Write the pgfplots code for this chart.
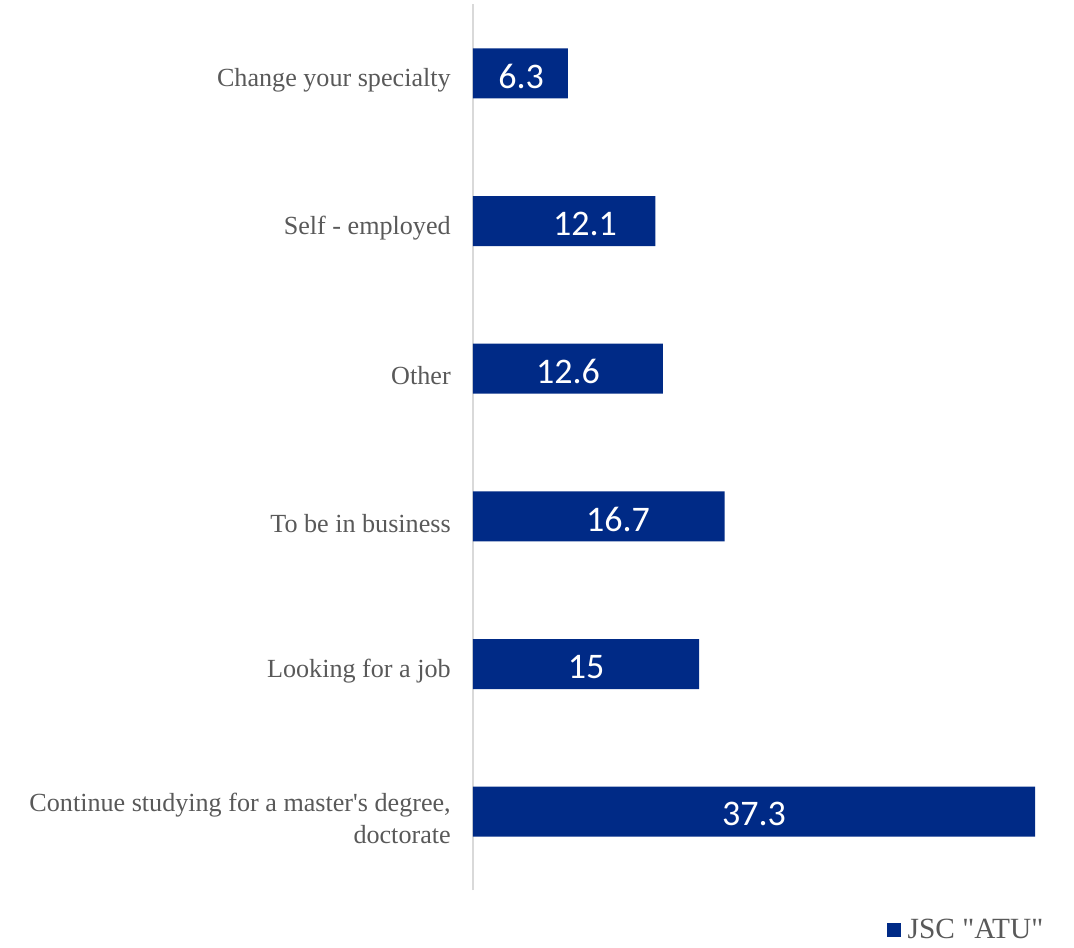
\documentclass[border=0pt]{standalone}
\usepackage{pgfplots}
\usepackage{pgfplotstable}
\pgfplotsset{compat=1.18}
\usepackage{fontspec}
\setmainfont{Liberation Serif}[Ligatures=TeXOff]
\newfontfamily\carlito{Carlito}
\definecolor{barblue}{HTML}{002A86}
\definecolor{txtgrey}{HTML}{595959}
\definecolor{axgrey}{HTML}{D9D9D9}
\pgfplotstableread{
pos val lx
5 6.3 3.19
4 12.1 7.43
3 12.6 6.30
2 16.7 9.62
1 15 7.50
0 37.3 18.65
}\datatab
\begin{document}
\begin{tikzpicture}
\useasboundingbox (-354.75pt,-42.75pt) rectangle (450.75pt,667.5pt);
\begin{axis}[
  at={(0,0)}, anchor=south west,
  scale only axis,
  width=421.5pt, height=664.5pt,
  xmin=0, xmax=37.3,
  ymin=-0.53, ymax=5.47,
  axis x line=none,
  axis y line=left,
  y axis line style={-, draw=axgrey, line width=1.5pt},
  xtick=\empty,
  ytick={0,1,2,3,4,5},
  yticklabels={{Continue studying for a master's degree,\\doctorate},{Looking for a job},{To be in business},{Other},{Self - employed},{Change your specialty}},
  major tick length=0pt,
  yticklabel style={font=\fontsize{19.6}{23.5}\selectfont, text=txtgrey, align=right, inner sep=0pt, xshift=-16.5pt, yshift=-5pt},
  clip=false,
  legend style={draw=none, fill=none, inner sep=0pt, outer sep=0pt,
    at={(axis description cs:0.7367,-0.0451)}, anchor=west,
    font=\fontsize{22}{22}\selectfont, text=txtgrey},
  legend cell align=left,
  legend image code/.code={\fill[barblue] (0pt,-5.25pt) rectangle (10.5pt,5.25pt);},
]
\addplot[xbar, bar width=37.5pt, fill=barblue, draw=none] table[x=val, y=pos] {\datatab};
\addlegendentry{\hspace{3pt}JSC "ATU"}
\addplot[draw=none, mark=none, nodes near coords, point meta=explicit,
  /pgf/number format/assume math mode=true,
  every node near coord/.append style={anchor=center, yshift=-2pt, text=white, font=\carlito\fontsize{27}{27}\selectfont}]
  table[x=lx, y=pos, meta=val] {\datatab};
\end{axis}
\end{tikzpicture}
\end{document}
